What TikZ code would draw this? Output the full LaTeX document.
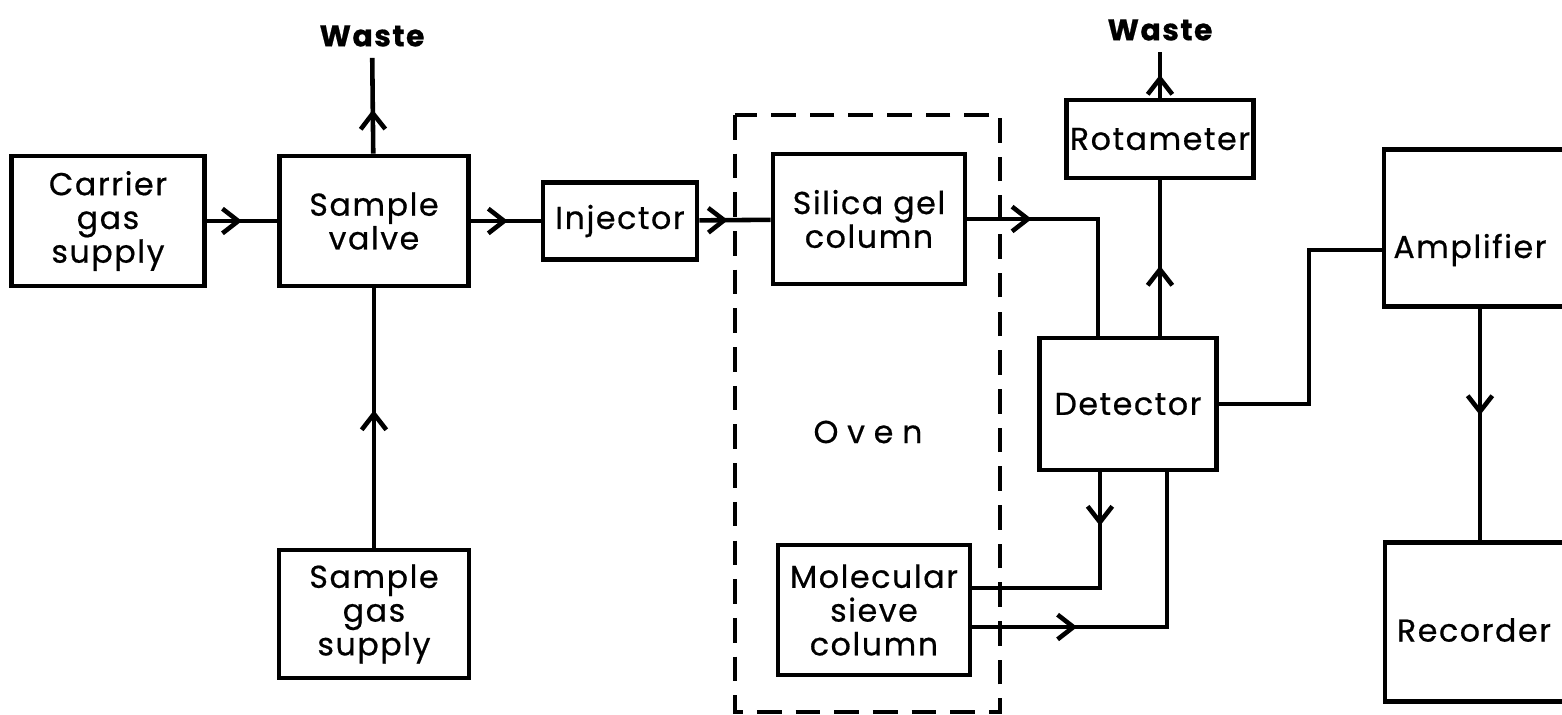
\documentclass[tikz,border=0pt]{standalone}
\usepackage{fontspec}
\setmainfont{Poppins}[LetterSpace=5,FakeBold=0.6]
\usepackage{tikz}
\usetikzlibrary{arrows.meta,decorations.markings}

\tikzset{
  blk/.style={draw, line width=1.3pt, align=center, inner sep=1pt},
  flow/.style={line width=1.3pt, postaction={decorate},
    decoration={markings, mark=at position #1 with {\arrow{Straight Barb[length=4.5pt,width=7pt]}}}},
  waste/.style={font=\fontsize{8.5}{9}\selectfont\bfseries, inner sep=3pt},
}

\begin{document}
\begin{tikzpicture}[x=0.01cm,y=-0.01cm,font=\fontsize{9}{9.6}\selectfont]
\useasboundingbox (0,0) rectangle (1562,714);
\node[blk,minimum width=1.93cm,minimum height=1.30cm] (carrier) at (108,221) {Carrier\\gas\\supply};
\node[blk,minimum width=1.89cm,minimum height=1.30cm] (valve) at (374,221) {Sample\\valve};
\node[blk,minimum width=1.90cm,minimum height=1.28cm] (sgas) at (374,614) {Sample\\gas\\supply};
\node[blk,minimum width=1.54cm,minimum height=0.77cm] (inj) at (620,221) {Injector};
\node[blk,minimum width=1.92cm,minimum height=1.30cm] (silica) at (869,219) {Silica gel\\column};
\node[blk,minimum width=1.92cm,minimum height=1.30cm] (sieve) at (874,610) {Molecular\\sieve\\column};
\node[blk,minimum width=1.63cm,minimum height=0.78cm] (rota) at (1160,139) {Rotameter};
\node[blk,minimum width=1.77cm,minimum height=1.32cm] (det) at (1128,404) {Detector};
\node[blk,minimum width=1.92cm,minimum height=1.57cm] (amp) at (1480,228) {};
\node (amptxt) at (1470,250) {Amplifier};
\node[blk,minimum width=1.90cm,minimum height=1.59cm] (rec) at (1480,622) {};
\node (rectxt) at (1474,630) {Recorder};
\node[waste] (waste1) at (372,36) {Waste};
\node[waste] (waste2) at (1160,30) {Waste};
% oven
\draw[line width=1.3pt, dash pattern=on 7pt off 4pt] (735,115) rectangle (1000,712);
\node (oven) at (868,432) {O\hspace{2.5pt}v\hspace{2.5pt}e\hspace{2.5pt}n};
% gas lines
\draw[flow=0.5] (carrier) -- (valve);
\draw[flow=0.53] (valve) -- (inj);
\draw[flow=0.4] (inj) -- (silica);
\draw[flow=0.53] (sgas) -- (valve);
\draw[flow=0.46] (valve) -- (waste1);
\draw[flow=0.5] (rota) -- (waste2);
\draw[flow=0.26] (silica.east) -| ([xshift=-0.3cm]det.north);
\draw[flow=0.45] (rota.south |- det.north) -- (rota.south);
\draw[flow=0.22] ([xshift=-0.28cm]det.south) |- ([yshift=0.22cm]sieve.east);
\draw[flow=0.3] ([yshift=-0.17cm]sieve.east) -| ([xshift=0.39cm]det.south);
% signal lines
\draw[line width=1.3pt] (det.east) -- ++(90,0) |- (amptxt -| amp.west);
\draw[flow=0.46] (amp) -- (rec);
\end{tikzpicture}
\end{document}
